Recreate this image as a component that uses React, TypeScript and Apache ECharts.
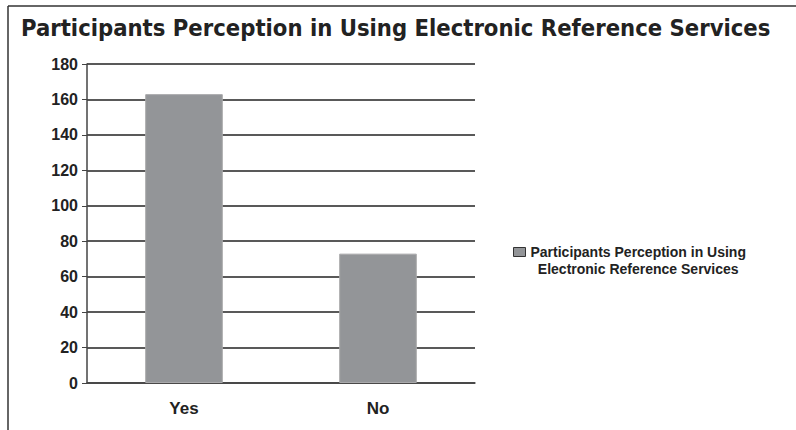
import React, { useEffect, useRef } from "react";
import * as echarts from "echarts";

const categories = ["Yes", "No"];
const values = [163, 73];
const seriesName = "Participants Perception in Using Electronic Reference Services";
const titleText = "Participants Perception in Using Electronic Reference Services";

export default function App() {
  const ref = useRef<HTMLDivElement>(null);
  useEffect(() => {
    if (!ref.current) return;
    const chart = echarts.init(ref.current, undefined, { renderer: "svg" });
    chart.setOption({
      animation: false,
      backgroundColor: "#ffffff",
      title: {
        text: titleText,
        left: 16,
        top: 11,
        textStyle: {
          fontFamily: "'Liberation Sans Narrow', 'DejaVu Sans Condensed', 'Liberation Sans', sans-serif",
          fontWeight: "bold",
          fontSize: 23.6,
          color: "#222",
        },
      },
      graphic: [
        { type: "line", shape: { x1: 8, y1: 6, x2: 796, y2: 6 }, style: { stroke: "#333", lineWidth: 1.5 } },
        { type: "line", shape: { x1: 8, y1: 6, x2: 8, y2: 430 }, style: { stroke: "#333", lineWidth: 1.5 } },
      ],
      legend: {
        left: 508,
        top: 240,
        icon: "rect",
        itemWidth: 12,
        itemHeight: 9,
        itemStyle: { borderColor: "#333", borderWidth: 1 },
        formatter: () =>
          "{a|Participants Perception in Using}\n{a|Electronic Reference Services}",
        textStyle: {
          padding: [17, 0, 0, 0],
          rich: {
            a: {
              align: "center",
              fontFamily: "Liberation Sans",
              fontWeight: "bold",
              fontSize: 14,
              lineHeight: 17,
              color: "#222",
            },
          },
        },
      },
      grid: { left: 87, right: 321, top: 64, bottom: 47 },
      xAxis: {
        type: "category",
        data: categories,
        axisLine: { lineStyle: { color: "#444", width: 1.5 } },
        axisTick: { show: false },
        axisLabel: {
          margin: 17,
          fontFamily: "Liberation Sans",
          fontWeight: "bold",
          fontSize: 17,
          color: "#222",
        },
      },
      yAxis: {
        type: "value",
        min: 0,
        max: 180,
        interval: 20,
        axisLine: { show: true, lineStyle: { color: "#444", width: 1.5 } },
        axisTick: { show: true, length: 5, lineStyle: { color: "#444" } },
        axisLabel: {
          margin: 9,
          fontFamily: "Liberation Sans",
          fontWeight: "bold",
          fontSize: 16,
          color: "#222",
        },
        splitLine: { lineStyle: { color: "#222", width: 1.5 } },
      },
      series: [
        {
          name: seriesName,
          type: "bar",
          data: values,
          barWidth: "40%",
          itemStyle: { color: "#939598", borderColor: "#a9a9ab", borderWidth: 1 },
        },
      ],
    });
    return () => chart.dispose();
  }, []);
  return (
    <div
      ref={ref}
      style={{ position: "absolute", left: 0, top: 0, width: 796, height: 430 }}
    />
  );
}
